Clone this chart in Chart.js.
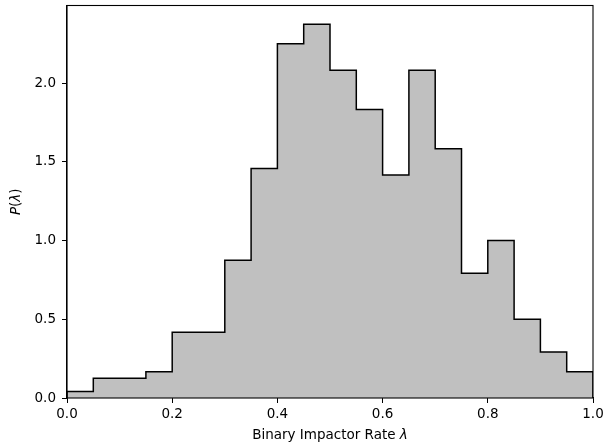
<!DOCTYPE html>
<html>
<head>
<meta charset="utf-8">
<script src="https://cdn.jsdelivr.net/npm/chart.js@4"></script>
<style>
  html, body { margin: 0; padding: 0; background: #fff; }
  #wrap { width: 608px; height: 445px; }
</style>
</head>
<body>
<div id="wrap"><canvas id="histChart"></canvas></div>
<script>
// bin edges and density
const binEdges = [0.0, 0.05, 0.1, 0.15, 0.2, 0.25, 0.3, 0.35, 0.4, 0.45, 0.5,
                  0.55, 0.6, 0.65, 0.7, 0.75, 0.8, 0.85, 0.9, 0.95, 1.0];
const density = [0.042, 0.125, 0.125, 0.167, 0.417, 0.417, 0.875, 1.458, 2.25, 2.375,
                 2.083, 1.833, 1.417, 2.083, 1.583, 0.792, 1.0, 0.5, 0.292, 0.167];
const xTicks = [0.0, 0.2, 0.4, 0.6, 0.8, 1.0];
const yTicks = [0.0, 0.5, 1.0, 1.5, 2.0];

const FONT = "'DejaVu Sans', sans-serif";
const FS = 13.5;

// outline of the stepfilled histogram: each point is a right edge with its bin value
const points = [{ x: binEdges[0], y: 0 }, { x: binEdges[0], y: density[0] }];
density.forEach((v, i) => points.push({ x: binEdges[i + 1], y: v }));
points.push({ x: binEdges[binEdges.length - 1], y: 0 });

// draws the frame and the axis titles (mixed upright / italic)
const framePlugin = {
  id: 'frame',
  afterDraw(chart) {
    const { ctx, chartArea: a } = chart;
    ctx.save();
    ctx.strokeStyle = '#000';
    ctx.lineWidth = 1.1;
    ctx.strokeRect(a.left, a.top, a.right - a.left, a.bottom - a.top);

    const pieces = (parts) => parts.map(([t, it]) => {
      ctx.font = (it ? 'italic ' : '') + FS + 'px ' + FONT;
      return { t, it, w: ctx.measureText(t).width };
    });
    const drawRun = (parts, cx, cy) => {
      const ps = pieces(parts);
      const total = ps.reduce((s, p) => s + p.w, 0);
      let x = cx - total / 2;
      ctx.fillStyle = '#000';
      ctx.textBaseline = 'middle';
      ctx.textAlign = 'left';
      ps.forEach(p => {
        ctx.font = (p.it ? 'italic ' : '') + FS + 'px ' + FONT;
        ctx.fillText(p.t, x, cy);
        x += p.w;
      });
    };

    drawRun([['Binary Impactor Rate ', false], ['λ', true]], (a.left + a.right) / 2, 435);

    ctx.save();
    ctx.translate(16, (a.top + a.bottom) / 2);
    ctx.rotate(-Math.PI / 2);
    drawRun([['P', true], ['(', false], ['λ', true], [')', false]], 0, 0);
    ctx.restore();
    ctx.restore();
  }
};

new Chart(document.getElementById('histChart'), {
  type: 'line',
  data: {
    datasets: [{
      data: points,
      stepped: 'after',
      fill: 'origin',
      backgroundColor: '#c0c0c0',
      borderColor: '#000',
      borderWidth: 1.5,
      pointRadius: 0
    }]
  },
  options: {
    responsive: true,
    maintainAspectRatio: false,
    animation: false,
    layout: { padding: { left: 0, right: 15, top: 5.5, bottom: 0 } },
    plugins: { legend: { display: false }, tooltip: { enabled: false } },
    scales: {
      x: {
        type: 'linear',
        min: 0,
        max: 1,
        afterFit: s => { s.height = 47; s.paddingLeft = 0; s.paddingRight = 0; },
        afterBuildTicks: s => { s.ticks = xTicks.map(v => ({ value: v })); },
        grid: { drawOnChartArea: false, drawTicks: true, tickLength: 5, color: '#000' },
        border: { color: '#000', width: 1.1 },
        ticks: {
          padding: 3,
          color: '#000',
          font: { family: FONT, size: FS },
          maxRotation: 0,
          callback: v => v.toFixed(1)
        }
      },
      y: {
        type: 'linear',
        min: 0,
        max: 2.49375,
        afterFit: s => { s.width = 67; s.paddingTop = 0; s.paddingBottom = 0; },
        afterBuildTicks: s => { s.ticks = yTicks.map(v => ({ value: v })); },
        grid: { drawOnChartArea: false, drawTicks: true, tickLength: 5, color: '#000' },
        border: { color: '#000', width: 1.1 },
        ticks: {
          padding: 6,
          color: '#000',
          font: { family: FONT, size: FS },
          callback: v => v.toFixed(1)
        }
      }
    }
  },
  plugins: [framePlugin]
});
</script>
</body>
</html>
